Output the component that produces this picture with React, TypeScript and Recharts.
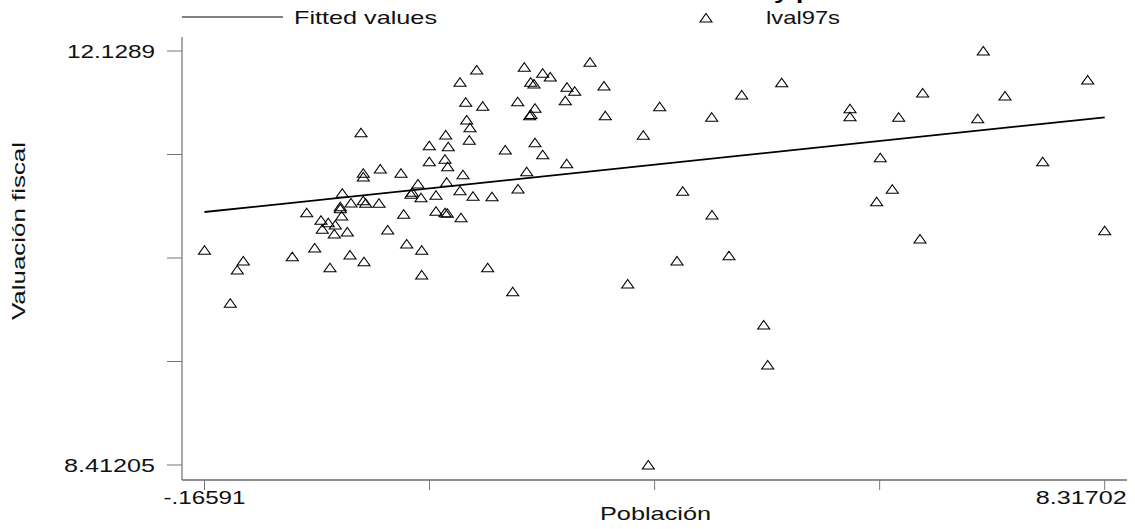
import React from 'react';
import { ScatterChart, Scatter, XAxis, YAxis } from 'recharts';

// Población (x) and Valuación fiscal (y) observations
const popX = [
  2.3992, 2.2418, 2.2955, 2.4557, 2.3049, 2.336, 1.3089, 2.107, 2.3294, 1.9525,
  2.1315, 2.1004, 1.9525, 2.1259, 1.4907, 1.3305, 1.3305, 1.6858, 2.2701, 2.1165,
  1.846, 1.1327, 2.2418, 1.7923, 1.78, 2.0156, 1.8743, 2.3643, 2.5433, 1.3305,
  1.3531, 1.2146, 1.4785, 1.1138, 1.1138, 1.127, 0.7972, 2.0156, 2.1004, 2.1221,
  1.7112, 2.2512, 0.9319, 1.0007, 1.0667, 0.9442, 1.1798, 1.0573, 1.5605, 0.8726,
  1.7395, 1.8809, -0.16591, 0.1997, 0.1432, 0.6615, 1.0167, 1.2052, 1.3371, 1.8809,
  2.5028, 0.0772, 2.8477, 3.4668, 3.0211, 3.0927, 2.908, 2.9391, 3.2501, 3.3226,
  3.5987, 2.7855, 3.2341, 2.9485, 2.8986, 2.9108, 3.611, 4.1236, 4.8964, 5.2733,
  4.6137, 3.9691, 2.9485, 2.6687, 3.0211, 3.2473, 2.8704, 2.7883, 4.3404, 4.6165,
  4.7767, 4.2867, 3.8221, 2.7384, 5.1037, 5.1414, 4.0162, 7.1731, 8.1568, 6.602,
  7.3775, 5.9169, 5.9169, 6.3758, 7.1203, 6.2024, 7.7328, 6.3155, 6.1685, 6.5765,
  8.31702,
];
const valY = [
  11.9583, 11.8479, 11.6683, 11.6324, 11.5094, 11.4403, 11.3954, 11.3748, 11.3272, 11.2787,
  11.2697, 11.1566, 11.135, 11.0902, 11.0695, 11.0309, 10.9977, 11.0309, 11.0183, 10.9501,
  10.9348, 10.8513, 10.8747, 10.8603, 10.8424, 10.8334, 10.8118, 10.8244, 10.8208, 10.7849,
  10.7616, 10.7643, 10.7616, 10.731, 10.7131, 10.6475, 10.6772, 10.6898, 10.6772, 10.6718,
  10.6628, 10.6323, 10.6089, 10.5874, 10.5667, 10.5281, 10.5039, 10.4859, 10.5219, 10.3603,
  10.3962, 10.3396, 10.3396, 10.2435, 10.1627, 10.2821, 10.1834, 10.2974, 10.2373, 10.1179,
  10.1834, 9.8638, 11.9826, 12.0274, 11.9287, 11.8955, 11.8479, 11.8326, 11.803, 11.7671,
  11.8147, 11.6737, 11.6827, 11.6145, 11.548, 11.5588, 11.548, 11.6288, 11.7339, 11.8443,
  11.5337, 11.3721, 11.3056, 11.2401, 11.1979, 11.1171, 11.0453, 10.8899, 10.8693, 10.6565,
  10.2911, 10.2435, 10.037, 9.9679, 9.669, 9.3098, 8.41205, 12.1289, 11.8685, 11.7518,
  11.7249, 11.6109, 11.5391, 11.5337, 11.5211, 11.171, 11.135, 10.8873, 10.7759, 10.4411,
  10.5156,
];

// Fitted values (linear fit) at the ends of the x range
const fitX = [-0.16591, 8.31702];
const fitY = [10.6835, 11.5337];

const xTicks = [-0.16591, 1.95482, 4.07555, 6.19629, 8.31702];
const xTickLabels = ['-.16591', '', '', '', '8.31702'];
const yTicks = [8.41205, 9.34126, 10.27047, 11.19968, 12.1289];
const yTickLabels = ['8.41205', '', '', '', '12.1289'];

const xTitle = 'Población';
const yTitle = 'Valuación fiscal';
const legendFit = 'Fitted values';
const legendPts = 'lval97s';
const clippedTitle = 'y p';

const points = popX.map((x, i) => ({ x, y: valY[i] }));
const fitted = fitX.map((x, i) => ({ x, y: fitY[i] }));

const FONT = "'Liberation Sans', Arial, Helvetica, sans-serif";
const FS = 18.6;
const labelWidth: Record<string, number> = {
  '-.16591': 82,
  '8.31702': 91,
  '8.41205': 91,
  '12.1289': 88,
};

const Triangle = (props: any) => {
  const { cx, cy } = props;
  if (cx == null || cy == null) return <g />;
  return (
    <path
      d={`M${cx},${cy - 4.5}L${cx + 6},${cy + 4}L${cx - 6},${cy + 4}Z`}
      fill="none"
      stroke="#000"
      strokeWidth={1.1}
    />
  );
};

const NoShape = () => <g />;

const YTick = (props: any) => {
  const { x, y, index } = props;
  const label = yTickLabels[index];
  if (!label) return <g />;
  return (
    <text
      x={x}
      y={y}
      dy={6.8}
      textAnchor="end"
      fontFamily={FONT}
      fontSize={FS}
      fill="#111"
      textLength={labelWidth[label]}
      lengthAdjust="spacingAndGlyphs"
    >
      {label}
    </text>
  );
};

const XTick = (props: any) => {
  const { x, y, index } = props;
  const label = xTickLabels[index];
  if (!label) return <g />;
  const last = index === xTickLabels.length - 1;
  return (
    <text
      x={last ? x + 22 : x}
      y={y + 14}
      textAnchor={last ? 'end' : 'middle'}
      fontFamily={FONT}
      fontSize={FS}
      fill="#111"
      textLength={labelWidth[label]}
      lengthAdjust="spacingAndGlyphs"
    >
      {label}
    </text>
  );
};

export default function App() {
  return (
    <div style={{ position: 'absolute', left: 0, top: 0, width: 1135, height: 529, background: '#fff' }}>
      <ScatterChart
        width={1135}
        height={529}
        margin={{ top: 37, right: 8, bottom: 19, left: 122 }}
      >
        <XAxis
          type="number"
          dataKey="x"
          domain={[-0.37794, 8.52716]}
          allowDataOverflow
          ticks={xTicks}
          interval={0}
          height={30}
          tickSize={10}
          tickMargin={0}
          axisLine={{ stroke: '#222', strokeWidth: 1 }}
          tickLine={{ stroke: '#777', strokeWidth: 1 }}
          tick={<XTick />}
        />
        <YAxis
          type="number"
          dataKey="y"
          domain={[8.27738, 12.2546]}
          allowDataOverflow
          ticks={yTicks}
          interval={0}
          width={60}
          tickSize={15}
          tickMargin={12}
          axisLine={{ stroke: '#555', strokeWidth: 1 }}
          tickLine={{ stroke: '#777', strokeWidth: 1 }}
          tick={<YTick />}
        />
        <Scatter
          data={fitted}
          line={{ stroke: '#000', strokeWidth: 1.8 }}
          shape={<NoShape />}
          isAnimationActive={false}
        />
        <Scatter data={points} shape={<Triangle />} isAnimationActive={false} />
      </ScatterChart>
      <svg
        width={1135}
        height={529}
        style={{ position: 'absolute', left: 0, top: 0, pointerEvents: 'none' }}
      >
        <text
          x={774}
          y={-1}
          fontFamily={FONT}
          fontSize={20}
          fontWeight="bold"
          fill="#000"
          textLength={38}
          lengthAdjust="spacingAndGlyphs"
        >
          {clippedTitle}
        </text>
        <line x1={182} x2={283} y1={17} y2={17} stroke="#000" strokeWidth={1} />
        <text
          x={294}
          y={24}
          fontFamily={FONT}
          fontSize={FS}
          fill="#111"
          textLength={143}
          lengthAdjust="spacingAndGlyphs"
        >
          {legendFit}
        </text>
        <path d="M706,13.5L712,22L700,22Z" fill="none" stroke="#000" strokeWidth={1.1} />
        <text
          x={766}
          y={24}
          fontFamily={FONT}
          fontSize={FS}
          fill="#111"
          textLength={74}
          lengthAdjust="spacingAndGlyphs"
        >
          {legendPts}
        </text>
        <text
          x={655.5}
          y={520}
          textAnchor="middle"
          fontFamily={FONT}
          fontSize={FS}
          fill="#111"
          textLength={111}
          lengthAdjust="spacingAndGlyphs"
        >
          {xTitle}
        </text>
        <text
          x={25}
          y={231}
          transform="rotate(-90 25 231)"
          textAnchor="middle"
          fontFamily={FONT}
          fontSize={FS}
          fill="#111"
          textLength={178}
          lengthAdjust="spacingAndGlyphs"
        >
          {yTitle}
        </text>
      </svg>
    </div>
  );
}
